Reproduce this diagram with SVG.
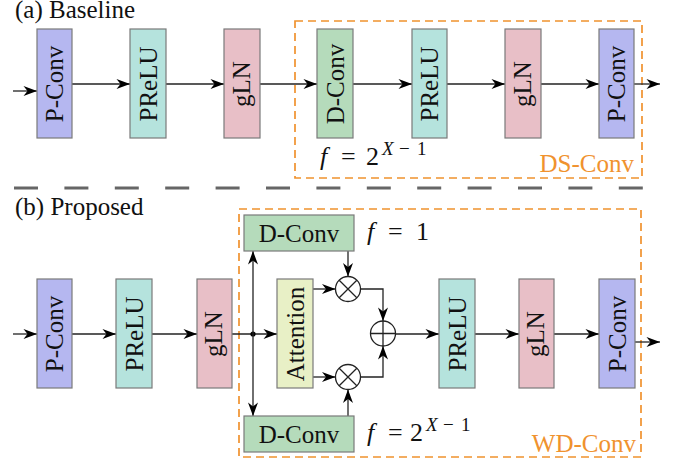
<svg xmlns="http://www.w3.org/2000/svg" width="681" height="463" viewBox="0 0 681 463">
<style>
.box{stroke:#7a7a7a;stroke-width:1.2}
.pconv{fill:#b5b7f0}
.prelu{fill:#b5e3dd}
.gln{fill:#e8bfc7}
.dconv{fill:#b5dbbb}
.att{fill:#e8f0c6}
.t{font-family:"Liberation Serif","DejaVu Serif",serif;font-size:25px;fill:#111}
.lab{font-family:"Liberation Serif","DejaVu Serif",serif;font-size:25px;fill:#111}
.or{font-family:"Liberation Serif","DejaVu Serif",serif;font-size:25px;fill:#f0922e}
.m{font-family:"Liberation Serif","DejaVu Serif",serif;font-size:26px;fill:#111}
.sup{font-size:19px}
.c{fill:none;stroke:#222;stroke-width:1.3}
.ob{fill:none;stroke:#f0922e;stroke-width:1.7;stroke-dasharray:8 5}
</style>
<defs>
<marker id="ah" viewBox="-14 -6 15 12" refX="0" refY="0" markerWidth="15" markerHeight="12" markerUnits="userSpaceOnUse" orient="auto">
<path d="M0,0 L-13.5,-5 L-9.5,0 L-13.5,5 Z" fill="#000"/>
</marker>
</defs>

<text class="lab" x="15" y="18">(a) Baseline</text>
<text class="lab" x="15" y="215">(b) Proposed</text>

<line x1="14" y1="188" x2="644" y2="188" stroke="#666" stroke-width="3" stroke-dasharray="24 26.4"/>

<rect class="ob" x="295" y="21" width="347" height="157"/>
<rect class="ob" x="239" y="209" width="402" height="248"/>

<g id="connectors">
<path class="c" d="M13,91 H37" marker-end="url(#ah)"/>
<path class="c" d="M72,84 H130" marker-end="url(#ah)"/>
<path class="c" d="M166,84 H224" marker-end="url(#ah)"/>
<path class="c" d="M260,84 H317" marker-end="url(#ah)"/>
<path class="c" d="M353,84 H412" marker-end="url(#ah)"/>
<path class="c" d="M447,84 H505" marker-end="url(#ah)"/>
<path class="c" d="M541,84 H599" marker-end="url(#ah)"/>
<path class="c" d="M634,84 H660" marker-end="url(#ah)"/>

<path class="c" d="M13,334 H37" marker-end="url(#ah)"/>
<path class="c" d="M72,334 H116" marker-end="url(#ah)"/>
<path class="c" d="M152,334 H197" marker-end="url(#ah)"/>
<path class="c" d="M232,334 H277" marker-end="url(#ah)"/>
<circle cx="253" cy="334" r="2.6" fill="#000"/>
<path class="c" d="M253,334 V251" marker-end="url(#ah)"/>
<path class="c" d="M253,334 V416" marker-end="url(#ah)"/>
<path class="c" d="M313,289 H335.5" marker-end="url(#ah)"/>
<path class="c" d="M313,377 H335.5" marker-end="url(#ah)"/>
<path class="c" d="M348,251 V276.5" marker-end="url(#ah)"/>
<path class="c" d="M348,416 V389.5" marker-end="url(#ah)"/>
<path class="c" d="M360.5,289 H383 V321" marker-end="url(#ah)"/>
<path class="c" d="M360.5,377 H383 V346" marker-end="url(#ah)"/>
<path class="c" d="M395.5,334 H439" marker-end="url(#ah)"/>
<path class="c" d="M475,334 H519" marker-end="url(#ah)"/>
<path class="c" d="M554,334 H599" marker-end="url(#ah)"/>
<path class="c" d="M635,342 H660" marker-end="url(#ah)"/>
</g>

<g id="a-pconv1"><rect class="box pconv" x="37" y="29" width="35" height="109"/><text class="t" transform="translate(63,84) rotate(-90)" text-anchor="middle">P-Conv</text></g>
<g id="a-prelu1"><rect class="box prelu" x="130" y="29" width="36" height="109"/><text class="t" transform="translate(156.5,84) rotate(-90)" text-anchor="middle">PReLU</text></g>
<g id="a-gln1"><rect class="box gln" x="224" y="29" width="36" height="109"/><text class="t" transform="translate(249.5,84) rotate(-90)" text-anchor="middle">gLN</text></g>
<g id="a-dconv"><rect class="box dconv" x="317" y="29" width="36" height="109"/><text class="t" transform="translate(343.5,84) rotate(-90)" text-anchor="middle">D-Conv</text></g>
<g id="a-prelu2"><rect class="box prelu" x="412" y="29" width="35" height="109"/><text class="t" transform="translate(438,84) rotate(-90)" text-anchor="middle">PReLU</text></g>
<g id="a-gln2"><rect class="box gln" x="505" y="29" width="36" height="109"/><text class="t" transform="translate(530.5,84) rotate(-90)" text-anchor="middle">gLN</text></g>
<g id="a-pconv2"><rect class="box pconv" x="599" y="29" width="35" height="109"/><text class="t" transform="translate(625,84) rotate(-90)" text-anchor="middle">P-Conv</text></g>

<text class="m" y="165"><tspan x="320" font-style="italic">f</tspan><tspan x="341">=</tspan><tspan x="366">2</tspan><tspan class="sup" x="382" y="155" font-style="italic">X</tspan><tspan class="sup" x="399">−</tspan><tspan class="sup" x="417">1</tspan></text>
<text class="or" x="634" y="172" text-anchor="end">DS-Conv</text>

<g id="b-pconv1"><rect class="box pconv" x="37" y="279" width="35" height="109"/><text class="t" transform="translate(63,334) rotate(-90)" text-anchor="middle">P-Conv</text></g>
<g id="b-prelu1"><rect class="box prelu" x="116" y="279" width="36" height="109"/><text class="t" transform="translate(142.5,334) rotate(-90)" text-anchor="middle">PReLU</text></g>
<g id="b-gln1"><rect class="box gln" x="197" y="279" width="35" height="109"/><text class="t" transform="translate(222,334) rotate(-90)" text-anchor="middle">gLN</text></g>
<g id="b-dconv-top"><rect class="box dconv" x="244" y="215" width="110" height="36"/><text class="t" x="299" y="242" text-anchor="middle">D-Conv</text></g>
<g id="b-attention"><rect class="box att" x="277" y="279" width="36" height="109"/><text class="t" transform="translate(303.5,334) rotate(-90)" text-anchor="middle">Attention</text></g>
<g id="b-dconv-bot"><rect class="box dconv" x="244" y="416" width="110" height="36"/><text class="t" x="299" y="443" text-anchor="middle">D-Conv</text></g>
<g id="b-mul-top"><circle class="c" cx="348" cy="289" r="12.5" fill="#fff"/><path class="c" d="M339.2,280.2 L356.8,297.8 M356.8,280.2 L339.2,297.8"/></g>
<g id="b-mul-bot"><circle class="c" cx="348" cy="377" r="12.5" fill="#fff"/><path class="c" d="M339.2,368.2 L356.8,385.8 M356.8,368.2 L339.2,385.8"/></g>
<g id="b-add"><circle class="c" cx="383" cy="333.5" r="12.5" fill="#fff"/><path class="c" d="M370.5,333.5 H395.5 M383,321 V346"/></g>
<g id="b-prelu2"><rect class="box prelu" x="439" y="279" width="36" height="109"/><text class="t" transform="translate(465.5,334) rotate(-90)" text-anchor="middle">PReLU</text></g>
<g id="b-gln2"><rect class="box gln" x="519" y="279" width="35" height="109"/><text class="t" transform="translate(544,334) rotate(-90)" text-anchor="middle">gLN</text></g>
<g id="b-pconv2"><rect class="box pconv" x="599" y="279" width="36" height="109"/><text class="t" transform="translate(625.5,334) rotate(-90)" text-anchor="middle">P-Conv</text></g>

<text class="m" y="240"><tspan x="367" font-style="italic">f</tspan><tspan x="388">=</tspan><tspan x="416">1</tspan></text>
<text class="m" y="441"><tspan x="367" font-style="italic">f</tspan><tspan x="388">=</tspan><tspan x="410">2</tspan><tspan class="sup" x="426" y="431" font-style="italic">X</tspan><tspan class="sup" x="443">−</tspan><tspan class="sup" x="461">1</tspan></text>
<text class="or" x="636" y="452" text-anchor="end">WD-Conv</text>
</svg>
